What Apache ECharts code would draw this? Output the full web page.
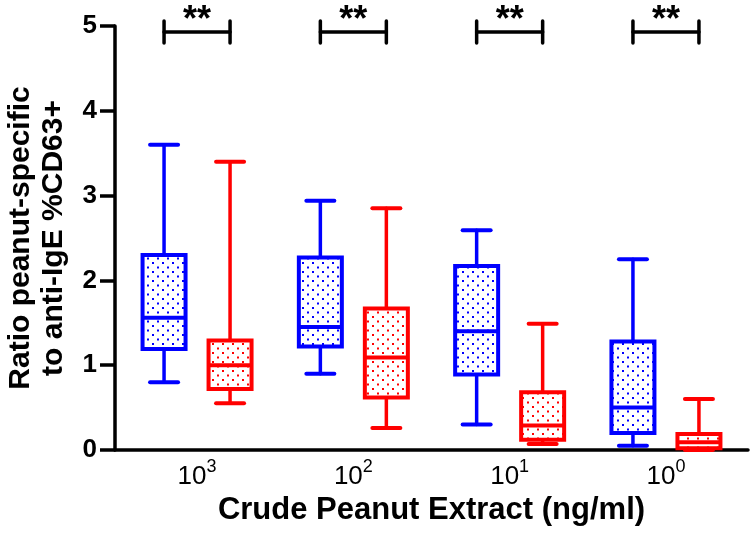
<!DOCTYPE html>
<html>
<head>
<meta charset="utf-8">
<script src="https://cdn.jsdelivr.net/npm/echarts@6/dist/echarts.min.js"></script>
<style>
html,body{margin:0;padding:0;background:#fff;}
#chart{width:750px;height:534px;}
</style>
</head>
<body>
<div id="chart"></div>
<script>
// ---- data ----
const categoryExponents = ['3', '2', '1', '0'];           // x labels: 10^3, 10^2, 10^1, 10^0
const categoryPositions = [1, 2, 3, 4];
const yTickValues = [0, 1, 2, 3, 4, 5];
// box values: [min, q1, median, q3, max]
const blueBoxes = [
  [0.80, 1.19, 1.56, 2.30, 3.60],
  [0.90, 1.22, 1.45, 2.27, 2.94],
  [0.30, 0.89, 1.40, 2.17, 2.59],
  [0.05, 0.20, 0.50, 1.28, 2.25]
];
const redBoxes = [
  [0.55, 0.72, 1.00, 1.29, 3.40],
  [0.26, 0.62, 1.09, 1.67, 2.85],
  [0.07, 0.12, 0.29, 0.68, 1.49],
  [0.00, 0.02, 0.09, 0.19, 0.60]
];
const sigLabels = ['**', '**', '**', '**'];
const sigBracketY = [4.93, 4.93, 4.93, 4.93];

// ---- helpers ----
function makePattern(color, w, h, dots, s) {
  const c = document.createElement('canvas');
  c.width = w; c.height = h;
  const ctx = c.getContext('2d');
  ctx.fillStyle = '#ffffff';
  ctx.fillRect(0, 0, w, h);
  ctx.fillStyle = color;
  dots.forEach(function (d) {
    ctx.fillRect(d[0], d[1], s, s);
  });
  return { image: c, repeat: 'repeat' };
}
const BLUE = '#0000ff', RED = '#ff0000';
const bluePattern = makePattern(BLUE, 10, 9, [[2, 1], [7, 5.5]], 2);
const redPattern = makePattern(RED, 10, 9, [[2, 1], [7, 5.5]], 2);

const PAIR_OFFSET = 33;   // px from category centre
const BOX_HALF = 21.5;
const CAP_HALF = 14;

function boxRenderer(offset, color, pattern) {
  return function (params, api) {
    const x = api.value(0);
    const cx = api.coord([x, 0])[0] + offset;
    const yMin = api.coord([x, api.value(1)])[1];
    const yQ1 = api.coord([x, api.value(2)])[1];
    const yMed = api.coord([x, api.value(3)])[1];
    const yQ3 = api.coord([x, api.value(4)])[1];
    const yMax = api.coord([x, api.value(5)])[1];
    const lw = { stroke: color, lineWidth: 3.5, lineCap: 'round' };
    return {
      type: 'group',
      children: [
        { type: 'line', shape: { x1: cx, y1: yMax, x2: cx, y2: yQ3 }, style: lw },
        { type: 'line', shape: { x1: cx, y1: yQ1, x2: cx, y2: yMin }, style: lw },
        { type: 'line', shape: { x1: cx - CAP_HALF, y1: yMax, x2: cx + CAP_HALF, y2: yMax }, style: { stroke: color, lineWidth: 4, lineCap: 'round' } },
        { type: 'line', shape: { x1: cx - CAP_HALF, y1: yMin, x2: cx + CAP_HALF, y2: yMin }, style: { stroke: color, lineWidth: 4, lineCap: 'round' } },
        { type: 'rect', shape: { x: cx - BOX_HALF, y: yQ3, width: BOX_HALF * 2, height: yQ1 - yQ3 }, style: { fill: pattern, stroke: color, lineWidth: 4 } },
        { type: 'line', shape: { x1: cx - BOX_HALF, y1: yMed, x2: cx + BOX_HALF, y2: yMed }, style: { stroke: color, lineWidth: 4 } }
      ]
    };
  };
}

function bracketRenderer(params, api) {
  const x = api.value(0);
  const p = api.coord([x, api.value(1)]);
  const x1 = p[0] - PAIR_OFFSET, x2 = p[0] + PAIR_OFFSET, y = p[1];
  const st = { stroke: '#000', lineWidth: 3.5, lineCap: 'round' };
  return {
    type: 'group',
    children: [
      { type: 'line', shape: { x1: x1, y1: y, x2: x2, y2: y }, style: st },
      { type: 'line', shape: { x1: x1, y1: y - 11, x2: x1, y2: y + 11 }, style: st },
      { type: 'line', shape: { x1: x2, y1: y - 11, x2: x2, y2: y + 11 }, style: st },
      { type: 'text', x: p[0], y: y - 11, style: { text: sigLabels[params.dataIndex], fill: '#000', font: 'bold 36px "Liberation Sans", Arial, sans-serif', align: 'center', verticalAlign: 'middle' } }
    ]
  };
}

const blueData = categoryPositions.map(function (x, i) { return [x].concat(blueBoxes[i]); });
const redData = categoryPositions.map(function (x, i) { return [x].concat(redBoxes[i]); });
const bracketData = categoryPositions.map(function (x, i) { return [x, sigBracketY[i]]; });

const chart = echarts.init(document.getElementById('chart'), null, { renderer: 'canvas' });
const FONT = '"Liberation Sans", Arial, sans-serif';
chart.setOption({
  animation: false,
  backgroundColor: '#ffffff',
  grid: { left: 115, right: 2, top: 26, bottom: 84, containLabel: false, outerBoundsMode: 'none' },
  xAxis: {
    type: 'value',
    min: 0.475,
    max: 4.525,
    splitLine: { show: false },
    axisLine: { show: true, onZero: false, lineStyle: { color: '#000', width: 3.5 } },
    axisTick: { show: false },
    axisLabel: {
      customValues: categoryPositions,
      margin: 8,
      formatter: function (v) {
        const i = categoryPositions.indexOf(Math.round(v));
        return '{b|10}{s|' + categoryExponents[i] + '}';
      },
      rich: {
        b: { fontSize: 26, fontFamily: FONT, color: '#000', verticalAlign: 'bottom', lineHeight: 32 },
        s: { fontSize: 18, fontFamily: FONT, color: '#000', verticalAlign: 'top', lineHeight: 32 }
      }
    },
    name: 'Crude Peanut Extract (ng/ml)',
    nameLocation: 'middle',
    nameGap: 43,
    nameTextStyle: { fontSize: 31, fontWeight: 'bold', fontFamily: FONT, color: '#000' }
  },
  yAxis: {
    type: 'value',
    min: 0,
    max: 5,
    interval: 1,
    splitLine: { show: false },
    axisLine: { show: true, lineStyle: { color: '#000', width: 3.5 } },
    axisTick: { show: true, length: 15, lineStyle: { color: '#000', width: 3.5 } },
    axisLabel: {
      margin: 18,
      fontSize: 26,
      fontWeight: 'bold',
      fontFamily: FONT,
      color: '#000',
      customValues: yTickValues
    },
    name: 'Ratio peanut-specific\nto anti-IgE %CD63+',
    nameLocation: 'middle',
    nameRotate: 90,
    nameGap: 45,
    nameTextStyle: { fontSize: 30, fontWeight: 'bold', fontFamily: FONT, color: '#000', lineHeight: 33, align: 'center' }
  },
  series: [
    { type: 'custom', name: 'blue', renderItem: boxRenderer(-PAIR_OFFSET, BLUE, bluePattern), data: blueData, encode: { x: 0, y: [1, 2, 3, 4, 5] }, clip: false, z: 3 },
    { type: 'custom', name: 'red', renderItem: boxRenderer(PAIR_OFFSET, RED, redPattern), data: redData, encode: { x: 0, y: [1, 2, 3, 4, 5] }, clip: false, z: 3 },
    { type: 'custom', name: 'sig', renderItem: bracketRenderer, data: bracketData, encode: { x: 0, y: 1 }, clip: false, z: 4 }
  ]
});
</script>
</body>
</html>
